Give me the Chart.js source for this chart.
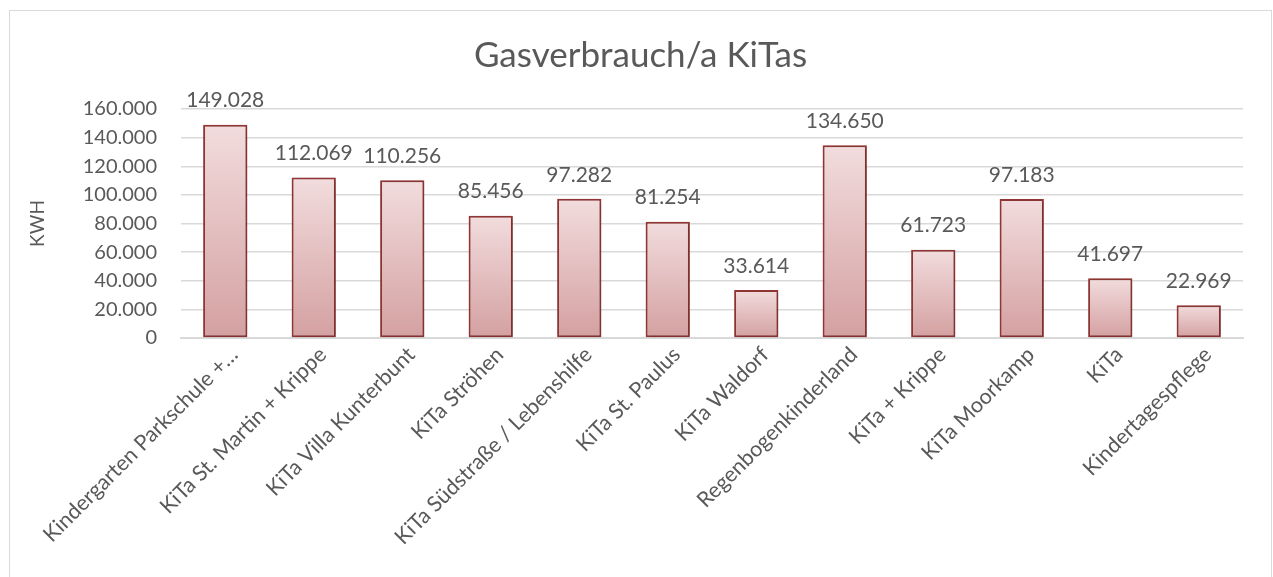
<!DOCTYPE html>
<html>
<head>
<meta charset="utf-8">
<script src="https://cdn.jsdelivr.net/npm/chart.js@4"></script>
<style>
  html, body { margin: 0; padding: 0; background: #fff; }
  #wrap {
    position: absolute; left: 9px; top: 10px;
    width: 1261px; height: 580px;
    border: 1px solid #d9d9d9;
  }
  #chart { display: block; }
</style>
</head>
<body>
<div id="wrap"><canvas id="chart" width="1261" height="566"></canvas></div>
<script>
// Gas consumption per year, KiTas
const categories = [
    'Kindergarten Parkschule +…',
    'KiTa St. Martin + Krippe',
    'KiTa Villa Kunterbunt',
    'KiTa Ströhen',
    'KiTa Südstraße / Lebenshilfe',
    'KiTa St. Paulus',
    'KiTa Waldorf',
    'Regenbogenkinderland',
    'KiTa + Krippe',
    'KiTa Moorkamp',
    'KiTa',
    'Kindertagespflege'
];
const kwhValues = [149028, 112069, 110256, 85456, 97282, 81254, 33614, 134650, 61723, 97183, 41697, 22969];
const yTicks = [0, 20000, 40000, 60000, 80000, 100000, 120000, 140000, 160000];

const FONT = 'Lato, "Open Sans", sans-serif';
const GREY = '#595959';

function fmtDe(v) {
    return String(Math.round(v)).replace(/\B(?=(\d{3})+(?!\d))/g, '.');
}

function barGradient(ctx) {
    const chart = ctx.chart;
    if (!chart.chartArea) return '#e8c4c4';
    const y = chart.scales.y;
    const top = y.getPixelForValue(ctx.raw);
    const bottom = y.getPixelForValue(0);
    const g = chart.ctx.createLinearGradient(0, top, 0, bottom);
    g.addColorStop(0, 'rgb(242, 220, 221)');
    g.addColorStop(1, 'rgb(212, 160, 161)');
    return g;
}

const barShadow = {
    id: 'barShadow',
    beforeDatasetsDraw(chart) {
        const c = chart.ctx;
        c.save();
        c.shadowColor = 'rgba(0,0,0,0.25)';
        c.shadowBlur = 4;
        c.shadowOffsetX = 1;
        c.shadowOffsetY = 1;
    },
    afterDatasetsDraw(chart) {
        chart.ctx.restore();
    }
};

const valueLabels = {
    id: 'valueLabels',
    afterDatasetsDraw(chart) {
        const c = chart.ctx;
        const meta = chart.getDatasetMeta(0);
        c.save();
        c.font = '21px ' + FONT;
        c.fillStyle = GREY;
        c.textAlign = 'center';
        c.textBaseline = 'middle';
        meta.data.forEach((bar, i) => {
            c.fillText(fmtDe(kwhValues[i]), bar.x, bar.y - 24);
        });
        c.restore();
    }
};

new Chart(document.getElementById('chart'), {
    type: 'bar',
    data: {
        labels: categories,
        datasets: [{
            label: 'KWH',
            data: kwhValues,
            backgroundColor: barGradient,
            borderColor: 'rgb(149, 55, 53)',
            borderWidth: 2,
            borderSkipped: false,
            categoryPercentage: 1,
            barPercentage: 0.5
        }]
    },
    options: {
        responsive: false,
        animation: false,
        layout: { padding: { left: 28, right: 28, top: 0, bottom: 0 } },
        plugins: {
            legend: { display: false },
            tooltip: { enabled: false },
            title: {
                display: true,
                text: 'Gasverbrauch/a KiTas',
                color: GREY,
                font: { family: FONT, size: 35, weight: 'normal' },
                padding: { top: 24, bottom: 32 }
            }
        },
        scales: {
            x: {
                grid: { display: false },
                border: { display: true, color: '#d9d9d9', width: 2 },
                ticks: {
                    color: GREY,
                    font: { family: FONT, size: 21.5 },
                    maxRotation: 45,
                    minRotation: 45,
                    autoSkip: false,
                    padding: -4,
                    labelOffset: 9
                },
                afterFit(scale) { scale.height = 239; }
            },
            y: {
                min: 0,
                max: 160000,
                afterBuildTicks(scale) {
                    scale.ticks = yTicks.map(v => ({ value: v }));
                },
                grid: { color: '#d9d9d9', lineWidth: 1.5, drawTicks: false },
                border: { display: false },
                ticks: {
                    color: GREY,
                    font: { family: FONT, size: 20 },
                    padding: 24,
                    callback: v => fmtDe(v)
                },
                title: {
                    display: true,
                    text: 'KWH',
                    color: GREY,
                    font: { family: FONT, size: 19 },
                    padding: { top: -12, bottom: 10 }
                },
                afterFit(scale) { scale.width = 143; }
            }
        }
    },
    plugins: [barShadow, valueLabels]
});
</script>
</body>
</html>
